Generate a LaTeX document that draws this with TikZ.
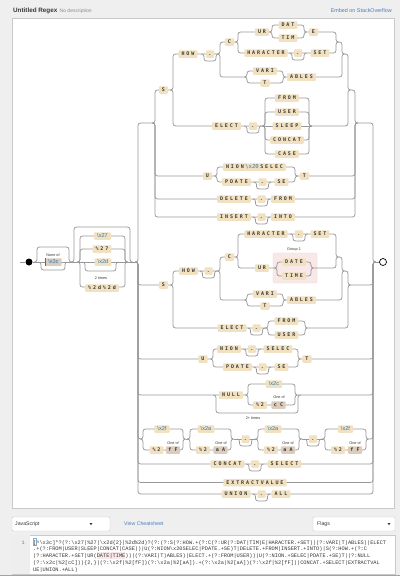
\documentclass[tikz,border=0pt]{standalone}
\usepackage{fontspec}
\setmainfont{Liberation Sans}
\newfontfamily\railmono{DejaVu Sans Mono}
\newfontfamily\codemono{Liberation Mono}
\usetikzlibrary{positioning}

\definecolor{pagebg}{HTML}{EFEFEF}
\definecolor{panelline}{HTML}{C9C9C9}
\definecolor{railgray}{HTML}{999999}
\definecolor{tokfill}{HTML}{F1E1C0}
\definecolor{clsfill}{HTML}{DBCCBC}
\definecolor{tokink}{HTML}{383838}
\definecolor{hexblue}{HTML}{2E78B4}
\definecolor{linkblue}{HTML}{4A7DB8}
\definecolor{grpfill}{HTML}{F8E8E8}
\definecolor{grpline}{HTML}{EED6D6}
\definecolor{gutter}{HTML}{EEEEEE}
\definecolor{barorange}{HTML}{F0922E}

\newcommand\bs{\textbackslash}
% spaced capitals in the token boxes
\def\lsend{\lsend}
\newcommand\ls[1]{\lsfirst#1\lsend}
\def\lsfirst#1{\ifx#1\lsend\else#1\expandafter\lsnext\fi}
\def\lsnext#1{\ifx#1\lsend\else\kern1.9pt#1\expandafter\lsnext\fi}
% rails: #1 rail x (L or R), entry y, branch y, free end x
\newcommand\railin[4]{\draw[rail] (#1-2.5,#2) -| (#1,#3) -- (#4,#3);}
\newcommand\railout[4]{\draw[rail] (#4,#3) -| (#1,#2) -- (#1+2.5,#2);}
% whole branch: L, R, entry y, branch y
\newcommand\railfull[4]{\draw[rail] (#1-2.5,#3) -| (#1,#4) -- (#2,#4) |- (#2+2.5,#3);}
\newcommand\loopbelow[4]{\draw[rail] (#1-2.5,#3) -- (#1,#3) -- (#1,#3+#4) -- (#2,#3+#4) -- (#2,#3) -- (#2+2.5,#3);}
\newcommand\skipabove[4]{\draw[rail] (#1-2.5,#3) -- (#1,#3) -- (#1,#3-#4) -- (#2,#3-#4) -- (#2,#3) -- (#2+2.5,#3);}
\newcommand\anyloop[2]{\loopbelow{#1-6}{#1+6}{#2}{7}}

\begin{document}
\begin{tikzpicture}[x=1pt,y=-1pt,
    rail/.style={draw=railgray,line width=0.75pt,rounded corners=2.5pt},
    tok/.style={fill=tokfill,text=tokink,rounded corners=0.8pt,font=\railmono\bfseries\fontsize{5}{5}\selectfont,
      inner xsep=3pt,inner ysep=0pt,minimum height=7.5pt,text height=3.7pt,text depth=0pt},
    anyc/.style={tok,inner xsep=0pt,minimum width=8pt},
    cls/.style={tok,fill=clsfill,inner xsep=2.5pt},
    hex/.style={fill=tokfill,text=hexblue,rounded corners=0.8pt,font=\fontsize{5.6}{5.6}\selectfont,
      inner xsep=3pt,inner ysep=0pt,minimum height=7.5pt,text height=3.9pt,text depth=0.3pt},
    note/.style={font=\fontsize{3.8}{3.8}\selectfont,text=tokink,inner sep=0pt},
    code/.style={anchor=base west,inner sep=0pt,font=\codemono\fontsize{5.3}{6}\selectfont,text=tokink}]
  \useasboundingbox (0,0) rectangle (400,576);
  \fill[pagebg] (0,0) rectangle (400,576);
  \draw[panelline,fill=white] (12,18) rectangle (394,508);

  % header
  \node[anchor=base west,inner sep=0pt,font=\bfseries\fontsize{6.3}{7}\selectfont,text=tokink] (title) at (13,12.5) {Untitled Regex};
  \node[anchor=base west,inner sep=0pt,font=\fontsize{5}{6}\selectfont,text=black!45] (desc) at ([xshift=2pt]title.base east) {No description};
  \node[anchor=base east,inner sep=0pt,font=\fontsize{5.4}{6}\selectfont,text=linkblue] (embed) at (392,12.5) {Embed on StackOverflow};

  \draw[grpline,fill=grpfill,rounded corners=2pt] (273,253) rectangle (317,283);

  % start, none of, optional quote group
  \node[circle,fill=black,inner sep=0pt,minimum size=7pt] (start) at (29,262) {};
  \node[circle,draw=black,line width=0.7pt,fill=white,inner sep=0pt,minimum size=7pt] (finish) at (383,262) {};
  \draw[rail] (20,262) -- (start);
  \draw[rail] (start) -- (71,262);
  \skipabove{37}{69}{262}{15}
  \loopbelow{41}{65}{262}{8}
  \skipabove{74}{130}{262}{35}
  \railfull{80}{125}{262}{236}
  \railfull{80}{125}{262}{249}
  \draw[rail] (71,262) -- (135.5,262);
  \railfull{80}{125}{262}{287}
  \loopbelow{85}{116}{262}{9}
  \draw[rail] (375.5,262) -- (finish);

  % first group: S / U / DELETE / INSERT
  \railin{138}{262}{123}{152.5}
  \railout{373}{262}{123}{357.5}
  \railin{155}{123}{90}{170.5}
  \railout{355}{123}{90}{350.5}
  \railin{173}{90}{54}{217.5}
  \railout{348}{90}{54}{344.5}
  \railin{220}{54}{42}{235.5}
  \railout{342}{54}{42}{338.5}
  \railin{238}{42}{32}{269.5}
  \railfull{272}{304}{32}{25}
  \railfull{272}{304}{32}{38}
  \railout{336}{42}{32}{306.5}
  \railfull{238}{336}{42}{53}
  \railin{220}{54}{77}{244.5}
  \railfull{247}{283}{77}{71}
  \railfull{247}{283}{77}{83}
  \railout{342}{54}{77}{285.5}
  \railin{173}{90}{126}{262.5}
  \railfull{265}{309}{126}{98}
  \railfull{265}{309}{126}{112}
  \draw[rail] (262.5,126) -- (311.5,126);
  \railfull{265}{309}{126}{140}
  \railfull{265}{309}{126}{154}
  \railout{348}{90}{126}{311.5}
  \railin{155}{123}{176}{214.5}
  \railfull{217}{295}{176}{167}
  \railfull{217}{295}{176}{182}
  \railout{355}{123}{176}{297.5}
  \railfull{155}{355}{123}{199}
  \railfull{155}{355}{123}{217}

  % second S
  \railin{138}{262}{285}{170.5}
  \railout{373}{262}{285}{350.5}
  \railin{173}{285}{271}{217.5}
  \railout{348}{285}{271}{344.5}
  \railin{220}{271}{257}{235.5}
  \railout{342}{271}{257}{338.5}
  \railfull{238}{336}{257}{234}
  \railin{238}{257}{268}{274.5}
  \railfull{277}{311}{268}{262}
  \railfull{277}{311}{268}{276}
  \railout{336}{257}{268}{313.5}
  \railin{220}{271}{300}{244.5}
  \railfull{247}{283}{300}{294}
  \railfull{247}{283}{300}{306}
  \railout{342}{271}{300}{285.5}
  \railin{173}{285}{328}{265.5}
  \railfull{268}{305}{328}{321}
  \railfull{268}{305}{328}{335}
  \railout{348}{285}{328}{307.5}

  % U...T, NULL, comments, rest
  \railin{138}{262}{359}{210.5}
  \railfull{213}{298}{359}{349}
  \railfull{213}{298}{359}{367}
  \railout{373}{262}{359}{300.5}
  \railin{138}{262}{395}{245.5}
  \railfull{248}{295}{395}{384}
  \railfull{248}{295}{395}{405}
  \railout{373}{262}{395}{297.5}
  \loopbelow{216}{298}{395}{18}
  \railin{138}{262}{439}{140.5}
  \railfull{143}{183}{439}{429}
  \railfull{143}{183}{439}{450}
  \draw[rail] (185.5,439) -- (187.5,439);
  \railfull{190}{231}{439}{429}
  \railfull{190}{231}{439}{450}
  \draw[rail] (233.5,439) -- (255.5,439);
  \railfull{258}{299}{439}{429}
  \railfull{258}{299}{439}{450}
  \draw[rail] (301.5,439) -- (322.5,439);
  \railfull{325}{366}{439}{429}
  \railfull{325}{366}{439}{450}
  \railout{373}{262}{439}{368.5}
  \railfull{138}{373}{262}{464}
  \railfull{138}{373}{262}{482.5}
  \railfull{138}{373}{262}{494}

  \foreach \dx/\dy in {210/54,298/53,253/126,262.5/182,261.5/199,261.5/217,208.5/271,299/234,
      256.5/328,252/349,262.5/367,245.5/439,313/439,255/464,261.5/494}
    \anyloop{\dx}{\dy};

  % boxes
  \node[hex,fill=clsfill] (lt) at (53.5,262) {\bs x3c};
  \draw[hexblue,line width=0.6pt] (lt.north west) -- (lt.south west);
  \node[note] (noneof) at (53,255) {None of};
  \node[hex] (apos) at (102.5,236) {\bs x27};
  \node[tok] (pcapos) at (102,249) {\ls{\%27}};
  \node[hex] (dash) at (103,262) {\bs x2d};
  \node[note] (twice) at (101,278) {2 times};
  \node[tok] (pcdash) at (102,288) {\ls{\%2d\%2d}};

  \node[tok] (S1) at (163.5,90) {S};
  \node[tok] (HOW1) at (188,54) {\ls{HOW}};
  \node[tok] (C1) at (229.5,42) {C};
  \node[tok] (UR1) at (262,32) {\ls{UR}};
  \node[tok] (DAT) at (288,25) {\ls{DAT}};
  \node[tok] (TIM) at (288,38) {\ls{TIM}};
  \node[tok] (E1) at (313.5,32) {E};
  \node[tok] (HARACTER1) at (266,53) {\ls{HARACTER}};
  \node[tok] (SET1) at (320,53) {\ls{SET}};
  \node[tok] (VARI1) at (265,71) {\ls{VARI}};
  \node[tok] (T1) at (265,83) {T};
  \node[tok] (ABLES1) at (301.5,77) {\ls{ABLES}};
  \node[tok] (ELECT1) at (226.5,126) {\ls{ELECT}};
  \node[tok] (FROM1) at (287,98) {\ls{FROM}};
  \node[tok] (USER1) at (287,112) {\ls{USER}};
  \node[tok] (SLEEP1) at (287,126) {\ls{SLEEP}};
  \node[tok] (CONCAT1) at (287,140) {\ls{CONCAT}};
  \node[tok] (CASE1) at (287,154) {\ls{CASE}};
  \node[tok] (U1) at (207.5,176) {U};
  \node[tok] (NIONSEL) at (254.5,167) {\ls{NION}\kern1.5pt{\fontsize{5.6}{5.6}\selectfont\mdseries\color{hexblue}\bs x20}\kern1.5pt\ls{SELEC}};
  \node[tok] (PDATE1) at (236.5,182) {\ls{PDATE}};
  \node[tok] (SE1) at (281.5,182) {\ls{SE}};
  \node[tok] (T2) at (304.5,176) {T};
  \node[tok] (DELETE) at (234,199) {\ls{DELETE}};
  \node[tok] (FROM2) at (283,199) {\ls{FROM}};
  \node[tok] (INSERT) at (234,217) {\ls{INSERT}};
  \node[tok] (INTO) at (283,217) {\ls{INTO}};

  \node[tok] (S2) at (163.5,285) {S};
  \node[tok] (HOW2) at (188.5,271) {\ls{HOW}};
  \node[tok] (C2) at (229.5,257) {C};
  \node[tok] (HARACTER2) at (266,234) {\ls{HARACTER}};
  \node[tok] (SET2) at (320,234) {\ls{SET}};
  \node[tok] (UR2) at (262,268) {\ls{UR}};
  \node[note] (grp) at (294,249.5) {Group 1};
  \node[tok] (DATE) at (294,262) {\ls{DATE}};
  \node[tok] (TIME) at (294,276) {\ls{TIME}};
  \node[tok] (VARI2) at (265,294) {\ls{VARI}};
  \node[tok] (T3) at (265,306) {T};
  \node[tok] (ABLES2) at (301.5,300) {\ls{ABLES}};
  \node[tok] (ELECT2) at (232,328) {\ls{ELECT}};
  \node[tok] (FROM3) at (286.5,321) {\ls{FROM}};
  \node[tok] (USER2) at (286.5,335) {\ls{USER}};

  \node[tok] (U2) at (203,359) {U};
  \node[tok] (NION2) at (229,349) {\ls{NION}};
  \node[tok] (SELEC2) at (278,349) {\ls{SELEC}};
  \node[tok] (PDATE2) at (237.5,367) {\ls{PDATE}};
  \node[tok] (SE2) at (281.5,367) {\ls{SE}};
  \node[tok] (T4) at (307,359) {T};

  \node[tok] (NULL) at (231,395) {\ls{NULL}};
  \node[hex] (comma) at (274,384) {\bs x2c};
  \node[tok] (pccomma) at (260,405) {\ls{\%2}};
  \node[note] (oneofc) at (279,397.5) {One of};
  \node[cls] (clsc) at (278.5,405) {c\kern3pt C};
  \node[note] (twoplus) at (253,418.5) {2+ times};

  \node[hex] (slash1) at (162,429) {\bs x2f};
  \node[tok] (pcslash1) at (156.5,450) {\ls{\%2}};
  \node[note] (oneof1) at (173,443.5) {One of};
  \node[cls] (clsf1) at (173,450) {f\kern3pt F};
  \node[hex] (star1) at (206,429) {\bs x2a};
  \node[tok] (pcstar1) at (203,450) {\ls{\%2}};
  \node[note] (oneof2) at (221,443.5) {One of};
  \node[cls] (clsa1) at (220.5,450) {a\kern3pt A};
  \node[hex] (star2) at (273,429) {\bs x2a};
  \node[tok] (pcstar2) at (271,450) {\ls{\%2}};
  \node[note] (oneof3) at (288,443.5) {One of};
  \node[cls] (clsa2) at (288,450) {a\kern3pt A};
  \node[hex] (slash2) at (345.5,429) {\bs x2f};
  \node[tok] (pcslash2) at (338,450) {\ls{\%2}};
  \node[note] (oneof4) at (355,443.5) {One of};
  \node[cls] (clsf2) at (355,450) {f\kern3pt F};

  \node[tok] (CONCAT2) at (227.5,464) {\ls{CONCAT}};
  \node[tok] (SELECT) at (284.5,464) {\ls{SELECT}};
  \node[tok] (EXTRACT) at (255,482.5) {\ls{EXTRACTVALUE}};
  \node[tok] (UNION) at (236,494) {\ls{UNION}};
  \node[tok] (ALL) at (281,494) {\ls{ALL}};

  \foreach \dx/\dy [count=\i] in {210/54,298/53,253/126,262.5/182,261.5/199,261.5/217,208.5/271,299/234,
      256.5/328,252/349,262.5/367,245.5/439,313/439,255/464,261.5/494}
    \node[anyc] (any\i) at (\dx,\dy) {.};

  % editor below
  \draw[panelline,fill=white,rounded corners=1pt] (12,517) rectangle (110,531);
  \node[anchor=west,inner sep=0pt,font=\fontsize{5.2}{6}\selectfont,text=tokink] (lang) at (15,524) {JavaScript};
  \fill[tokink] (89.5,523) -- (92.5,523) -- (91,525.2) -- cycle;
  \node[anchor=west,inner sep=0pt,font=\fontsize{5.2}{6}\selectfont,text=linkblue] (cheat) at (124,524) {View Cheatsheet};
  \draw[panelline,fill=white,rounded corners=1pt] (313,517) rectangle (395,531);
  \node[anchor=west,inner sep=0pt,font=\fontsize{5.2}{6}\selectfont,text=tokink] (flags) at (317,524) {Flags};
  \fill[tokink] (387.5,523) -- (390.5,523) -- (389,525.2) -- cycle;
  \draw[panelline,fill=white] (12,535) rectangle (395,574);
  \fill[gutter] (12.4,535.4) rectangle (30,573.6);
  \node[code,text=black!50] (lineno) at (21.5,544) {1};
  \fill[grpfill] (96.5,551.8) rectangle (125.3,558.6);
  \draw[hexblue!60,line width=0.4pt] (32.8,538.6) rectangle (36.2,545.4);
  \node[code] (code1) at (33,544) {[\textasciicircum\bs x3c]*?(?:\bs x27|\%27|\bs x2d\{2\}|\%2d\%2d)?(?:(?:S(?:HOW.+(?:C(?:UR(?:DAT|TIM)E|HARACTER.+SET)|(?:VARI|T)ABLES)|ELECT};
  \node[code] (code2) at (33,550.8) {.+(?:FROM|USER|SLEEP|CONCAT|CASE))|U(?:NION\bs x20SELEC|PDATE.+SE)T|DELETE.+FROM|INSERT.+INTO)|S(?:HOW.+(?:C};
  \node[code] (code3) at (33,557.6) {(?:HARACTER.+SET|UR(DATE|TIME))|(?:VARI|T)ABLES)|ELECT.+(?:FROM|USER))|U(?:NION.+SELEC|PDATE.+SE)T|(?:NULL};
  \node[code] (code4) at (33,564.4) {(?:\bs x2c|\%2[cC]))\{2,\}|(?:\bs x2f|\%2[fF])(?:\bs x2a|\%2[aA]).+(?:\bs x2a|\%2[aA])(?:\bs x2f|\%2[fF])|CONCAT.+SELECT|EXTRACTVAL};
  \node[code] (code5) at (33,571.2) {UE|UNION.+ALL)};
  \fill[barorange] (0,574.6) rectangle (400,576);
\end{tikzpicture}
\end{document}
